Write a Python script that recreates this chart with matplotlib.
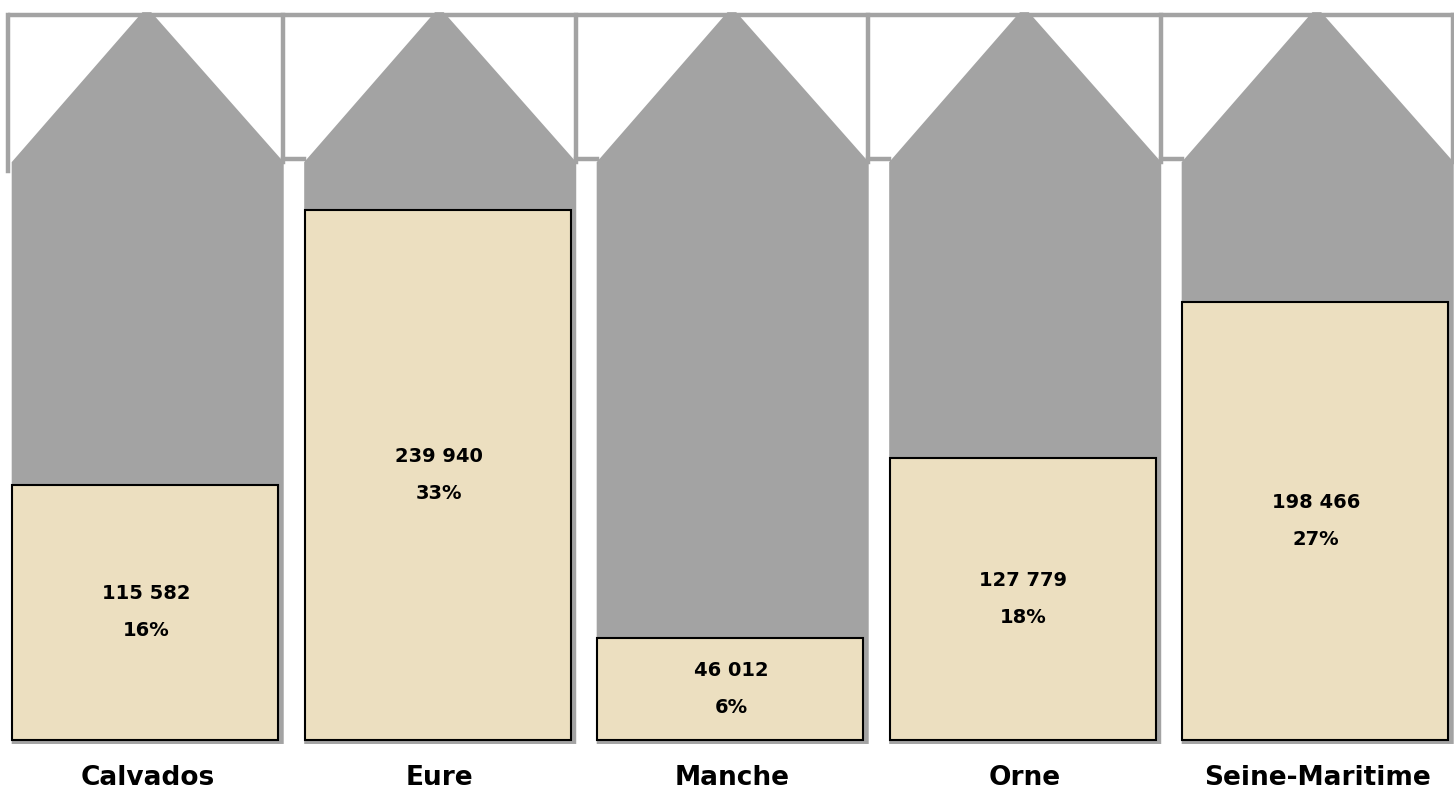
import matplotlib.pyplot as plt
from matplotlib.patches import Polygon, Rectangle

departements = ['Calvados', 'Eure', 'Manche', 'Orne', 'Seine-Maritime']
valeurs = [115582, 239940, 46012, 127779, 198466]
etiquettes = ['115 582', '239 940', '46 012', '127 779', '198 466']
pourcents = ['16%', '33%', '6%', '18%', '27%']

# geometrie des silos (unites de valeur)
epaule = 261600
sommet = 329500
ligne_haut = 328200
bas_silo = -1800
demi_silo = 0.465
largeur_barre = 0.909

gris = '#a3a3a3'
beige = '#ecdfc0'

fig = plt.figure(figsize=(14.54, 7.94), dpi=100)
ax = fig.add_axes([0, 0, 1, 1])
ax.set_xlim(-0.499, 4.472)
ax.set_ylim(-24450, 335000)
ax.axis('off')

pos = list(range(len(departements)))

for i in pos:
    g = i - demi_silo + 0.006
    d = i + demi_silo + 0.006
    silo = Polygon([(g, bas_silo), (g, epaule), (i - 0.012, sommet),
                    (i + 0.018, sommet), (d, epaule), (d, bas_silo)],
                   closed=True, facecolor=gris, edgecolor='none', zorder=1)
    ax.add_patch(silo)

# cadre gris des toits
ax.plot([-demi_silo - 0.005, 4.472], [ligne_haut, ligne_haut], color=gris, lw=3.2,
        zorder=2, solid_capstyle='butt')
ax.plot([-demi_silo - 0.005, -demi_silo - 0.005], [epaule - 4000, ligne_haut],
        color=gris, lw=3.2, zorder=2)
for i in pos:
    d = i + demi_silo + 0.004
    ax.plot([d, d], [epaule, ligne_haut], color=gris, lw=3.2, zorder=2)
    if i < len(pos) - 1:
        ax.plot([d, i + 1 - demi_silo + 0.006], [epaule + 1500, epaule + 1500],
                color=gris, lw=3.2, zorder=2)

# barres
for i, v in zip(pos, valeurs):
    ax.add_patch(Rectangle((i - 0.002 - largeur_barre / 2, 0), largeur_barre, v,
                           facecolor=beige, edgecolor='black', lw=1.5, zorder=3))
    ax.text(i, v / 2, etiquettes[i] + '\n' + pourcents[i], ha='center', va='center',
            fontsize=14, fontweight='bold', linespacing=2.2, family='DejaVu Sans',
            zorder=4)
    ax.text(i + 0.005, -17200, departements[i], ha='center', va='center', fontsize=19,
            fontweight='bold', family='DejaVu Sans', zorder=4)

fig.savefig('out.png', dpi=100, facecolor='white')
